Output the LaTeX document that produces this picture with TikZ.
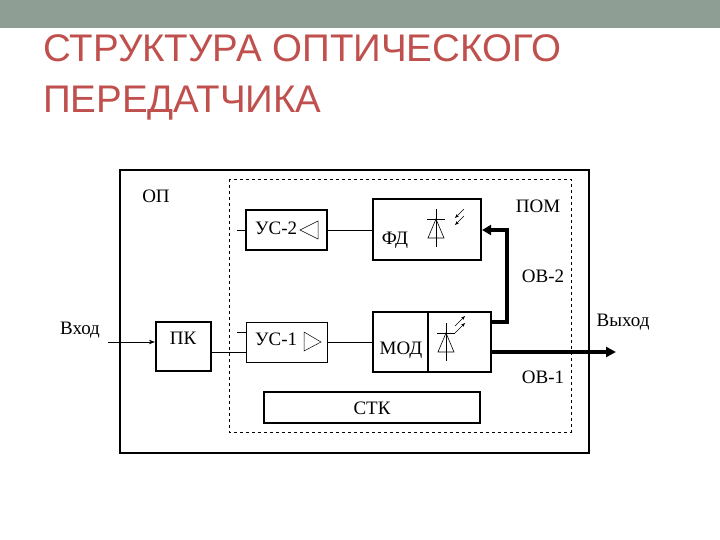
\documentclass[tikz,border=0pt]{standalone}
\usepackage{fontspec}
\setmainfont{Liberation Serif}
\newfontfamily\titlefont{Liberation Sans}
\usetikzlibrary{arrows.meta}
\definecolor{band}{HTML}{8E9E94}
\definecolor{ttl}{HTML}{C0504D}
\begin{document}
\begin{tikzpicture}[x=1pt,y=-1pt,
  blk/.style={draw,line width=2.2pt},
  thinblk/.style={draw,line width=0.6pt},
  lbl/.style={font=\fontsize{19}{19}\selectfont,inner sep=0pt},
  thick line/.style={line width=4pt}]
\useasboundingbox (0,0) rectangle (720,540);
\fill[band] (0,0) rectangle (720,28);
\node[anchor=base west,text=ttl,font=\titlefont\fontsize{38.5}{38.5}\selectfont,inner sep=0pt] (t1) at (43,62) {СТРУКТУРА ОПТИЧЕСКОГО};
\node[anchor=base west,text=ttl,font=\titlefont\fontsize{38.5}{38.5}\selectfont,inner sep=0pt] (t2) at (43,113) {ПЕРЕДАТЧИКА};
% outer
\draw[line width=2.2pt] (120,170) rectangle (589,453);
\draw[dashed,line width=0.5pt] (229,179) rectangle (571,432);
\node[lbl] (op) at (156,196) {ОП};
\node[lbl] (pom) at (538,206) {ПОМ};
\node[lbl] (ov2) at (543,276) {ОВ-2};
\node[lbl] (ov1) at (543,377) {ОВ-1};
\node[lbl] (vyh) at (623,322) {Выход};
\node[lbl] (vh) at (80,330) {Вход};
% blocks
\node[blk,minimum width=81pt,minimum height=40pt,inner sep=0pt] (us2) at (286.5,230) {};
\node[lbl,anchor=west] at (255,228) {УС-2};
\draw[line width=0.5pt] (318,221)--(318,239)--(300,230)--cycle;
\node[thinblk,minimum width=81pt,minimum height=40pt,inner sep=0pt] (us1) at (286.5,342) {};
\node[lbl,anchor=west] at (255,339) {УС-1};
\draw[line width=0.5pt] (304,332)--(304,351)--(321,342)--cycle;
\node[blk,minimum width=108pt,minimum height=61pt,inner sep=0pt] (fd) at (427,229.5) {};
\node[lbl] at (395,240) {ФД};
\node[blk,minimum width=118pt,minimum height=60pt,inner sep=0pt] (mod) at (432,342) {};
\draw[line width=1.2pt] (428,312)--(428,372);
\node[lbl] at (401,350) {МОД};
\node[blk,minimum width=55pt,minimum height=49pt,inner sep=0pt] (pk) at (183.5,346.5) {};
\node[lbl] at (183,338) {ПК};
\node[blk,minimum width=216pt,minimum height=31pt,inner sep=0pt] (stk) at (372,407.5) {};
\node[lbl] at (372,408) {СТК};
% diodes
\foreach \cx/\cy in {436/228,446/342}{
  \draw[line width=0.6pt] (\cx,\cy-19)--(\cx,\cy+19);
  \draw[line width=0.6pt] (\cx-9,\cy-9)--(\cx+9,\cy-9);
  \draw[line width=0.6pt] (\cx,\cy-9)--(\cx-8,\cy+10)--(\cx+8,\cy+10)--cycle;
}
\foreach \dy in {0,7}{
  \draw[-{Stealth[length=4pt]},line width=0.6pt] (464,{209+\dy})--(455,{218+\dy});
  \draw[-{Stealth[length=4pt]},line width=0.6pt] (455,{326+\dy})--(465,{316+\dy});
}
% connections
\coordinate (inL) at (108,342);
\draw[-{Stealth[length=6pt]},line width=0.5pt] (inL)--(pk.west|-inL);
\draw[line width=0.5pt] (pk.east|-us1.south) ++(0,-10) coordinate (a1) -- (us1.west|-a1);
\draw[line width=0.5pt] (us1.east)--(mod.west);
\draw[line width=0.5pt] (us2.east)--(fd.west|-us2.east);
\draw[line width=0.5pt] (237,230)--(us2.west);
\draw[line width=0.5pt] (237,332)--(us1.west|-0,332);
\coordinate (outR) at (616,352);
\draw[thick line,-{Triangle[length=10pt,width=10pt]}] (mod.east|-outR)--(outR);
\coordinate (fb1) at (507,322);
\coordinate (fb2) at (507,230);
\draw[thick line,-{Triangle[length=9pt,width=10pt]}] (mod.east|-fb1)--(fb1)--(fb2)--(fd.east|-fb2);
\end{tikzpicture}
\end{document}
